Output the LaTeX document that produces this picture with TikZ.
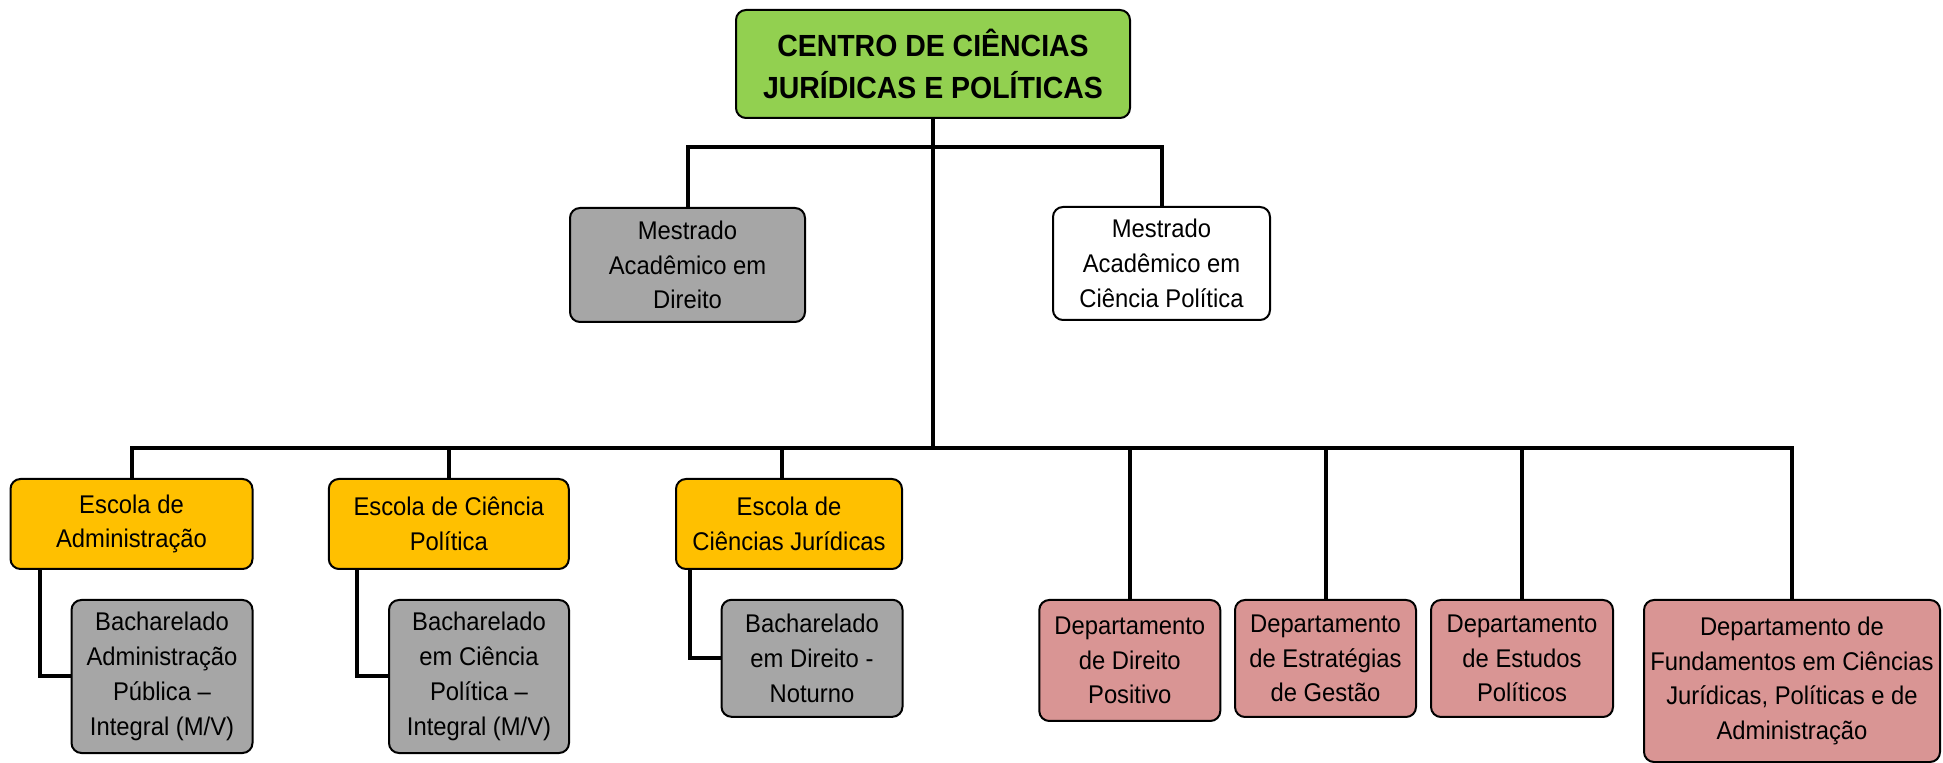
\documentclass[tikz,border=0pt]{standalone}
\usepackage{fontspec}
\setmainfont{Liberation Sans}[FakeStretch=0.93]
\definecolor{cgreen}{HTML}{92D050}
\definecolor{cgold}{HTML}{FFC000}
\definecolor{cgray}{HTML}{A6A6A6}
\definecolor{cpink}{HTML}{D99594}
\begin{document}
\begin{tikzpicture}[x=0.5pt,y=-0.5pt,
  box/.style={draw=black, line width=1pt, rounded corners=5pt, align=center, inner sep=1pt,
    font=\fontsize{12.8}{17.4}\selectfont},
  link/.style={line width=2pt}]
\useasboundingbox (0,0) rectangle (1943,763);
% nodes
\node[box, fill=cgreen, minimum width=197pt, minimum height=54pt,
  font=\fontsize{15.3}{20.8}\selectfont\bfseries] (top) at (933,64) {CENTRO DE CIÊNCIAS\\JURÍDICAS E POLÍTICAS};
\node[box, fill=cgray, minimum width=117.5pt, minimum height=57pt] (mad) at (687.5,265) {Mestrado\\Acadêmico em\\Direito};
\node[box, fill=white, minimum width=108.5pt, minimum height=56.5pt] (mcp) at (1161.5,263.5) {Mestrado\\Acadêmico em\\Ciência Política};
\node[box, fill=cgold, minimum width=121pt, minimum height=45pt] (ea) at (131.5,524) {Escola de\\Administração};
\node[box, fill=cgold, minimum width=120pt, minimum height=45pt] (ecp) at (448.8,524) {Escola de Ciência\\Política};
\node[box, fill=cgold, minimum width=113pt, minimum height=45pt] (ecj) at (789,524) {Escola de\\Ciências Jurídicas};
\node[box, fill=cgray, minimum width=90.5pt, minimum height=76.5pt] (ba1) at (162,676.5) {Bacharelado\\Administração\\Pública –\\Integral (M/V)};
\node[box, fill=cgray, minimum width=90pt, minimum height=76.5pt] (ba2) at (479,676.5) {Bacharelado\\em Ciência\\Política –\\Integral (M/V)};
\node[box, fill=cgray, minimum width=90.5pt, minimum height=58.5pt] (ba3) at (812,658.3) {Bacharelado\\em Direito -\\Noturno};
\node[box, fill=cpink, minimum width=90.5pt, minimum height=60.5pt] (d1) at (1129.8,660.5) {Departamento\\de Direito\\Positivo};
\node[box, fill=cpink, minimum width=90.5pt, minimum height=58.5pt] (d2) at (1325.5,658.5) {Departamento\\de Estratégias\\de Gestão};
\node[box, fill=cpink, minimum width=91pt, minimum height=58.5pt] (d3) at (1522,658.5) {Departamento\\de Estudos\\Políticos};
\node[box, fill=cpink, minimum width=148pt, minimum height=81pt] (d4) at (1792,681) {Departamento de\\Fundamentos em Ciências\\Jurídicas, Políticas e de\\Administração};
% bus coordinates
\coordinate (bus1) at (933,146.7);
\coordinate (bus2) at (933,448.3);
% connectors
\draw[link] (top.south) -- (bus2);
\draw[link] (mad.north) |- (bus1) -| (mcp.north);
\draw[link] (ea.north) |- (bus2) -| (d4.north);
\draw[link] (ecp.north) -- (ecp.north |- bus2);
\draw[link] ([xshift=-3.5pt]ecj.north) -- ([xshift=-3.5pt]ecj.north |- bus2);
\draw[link] (d1.north) -- (d1.north |- bus2);
\draw[link] (d2.north) -- (d2.north |- bus2);
\draw[link] (d3.north) -- (d3.north |- bus2);
\draw[link] ([xshift=15pt]ea.south west) |- (ba1.west);
\draw[link] ([xshift=14.7pt]ecp.south west) |- (ba2.west);
\draw[link] ([xshift=7.3pt]ecj.south west) |- (ba3.west);
\end{tikzpicture}
\end{document}
